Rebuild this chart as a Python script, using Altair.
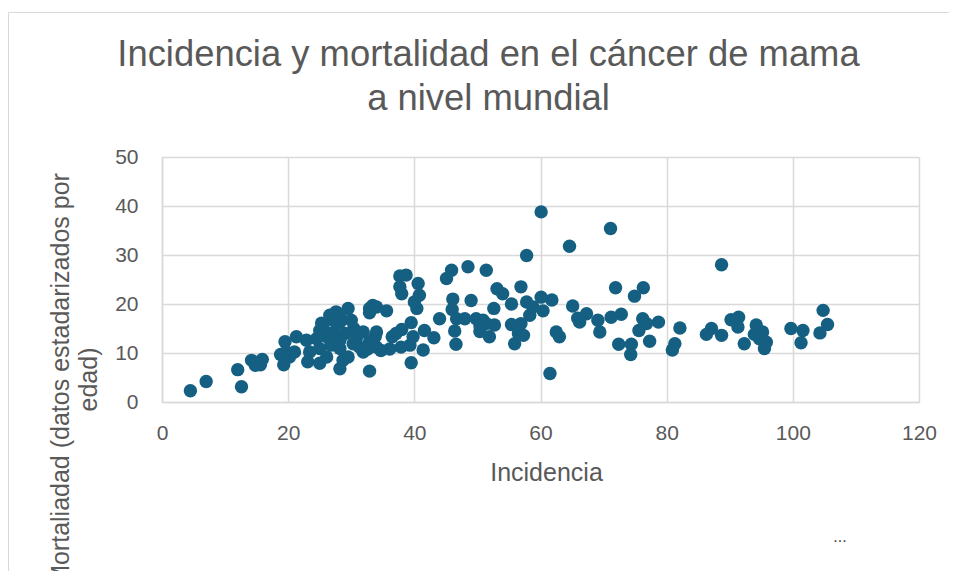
import altair as alt
import pandas as pd

incidencia = [
    4.5, 7.0, 12.0, 12.6, 14.2, 14.8, 15.9, 15.6, 18.8, 19.5, 19.3, 19.7,
    20.2, 21.0, 21.3, 22.9, 23.1, 23.4, 24.5, 25.3, 25.0, 25.5, 25.0, 25.0,
    26.1, 26.6, 26.6, 26.1, 26.8, 27.1, 27.4, 27.6, 28.2, 28.2, 28.2, 28.2,
    28.7, 28.2, 29.0, 29.5, 29.5, 30.0, 30.4, 30.3, 30.8,
    31.3, 31.9, 31.9, 32.6, 32.9, 32.9, 32.9, 32.9, 33.4, 33.8, 34.0, 34.0,
    34.0, 34.7, 35.6, 36.1, 36.5, 37.1, 37.7, 38.7, 37.7, 38.0, 38.0, 37.9,
    39.3, 39.5, 39.5, 39.8, 40.0, 40.6, 40.8, 40.4,
    41.4, 41.6, 43.1, 44.0, 45.1, 45.9, 46.1, 46.0, 46.7, 46.4, 46.6, 48.0,
    48.5, 49.0, 49.8,
    50.4, 50.4, 50.9, 51.4, 51.4, 51.9, 52.6, 52.7, 53.1, 54.0, 55.4, 55.4,
    55.9, 56.5, 56.9, 56.9, 57.3, 57.8, 57.8, 58.3, 58.8,
    60.1, 60.1, 60.4, 61.8, 61.5, 62.5, 63.0, 64.6, 65.1, 65.9, 66.2, 67.3,
    69.1, 69.4, 71.1, 71.2, 71.9, 72.8, 72.4, 74.3, 74.4, 74.9, 75.6, 76.2,
    76.3, 76.8, 77.3, 78.7,
    80.9, 81.3, 82.1, 86.3, 87.1, 88.7, 88.7, 90.2, 91.4, 91.3, 92.3, 94.2,
    93.9, 94.7, 95.2, 95.8, 95.5, 99.7, 101.6, 101.3, 104.3, 104.8, 105.5,
]
mortalidad = [
    2.3, 4.2, 6.6, 3.1, 8.5, 7.5, 8.7, 7.6, 9.7, 12.3, 7.6, 10.2,
    9.2, 10.2, 13.3, 12.6, 8.2, 10.2, 12.9, 16.1, 7.9, 15.3, 14.6, 10.9,
    13.3, 14.0, 17.7, 9.2, 11.6, 16.7, 14.3, 18.4, 17.7, 16.3, 12.6, 10.9,
    8.5, 6.8, 14.0, 19.1, 9.2, 16.7, 15.0, 11.9, 12.9,
    11.2, 14.3, 10.2, 10.8, 19.1, 18.2, 12.2, 6.3, 19.7, 13.3, 14.3, 19.4,
    11.2, 10.5, 18.6, 10.8, 13.3, 14.0, 25.7, 25.9, 23.5, 22.1, 14.8, 11.2,
    11.6, 16.2, 8.0, 13.3, 20.4, 24.2, 21.8, 19.1,
    10.6, 14.6, 13.1, 17.0, 25.2, 26.9, 21.0, 18.9, 17.0, 14.5, 11.8, 17.0,
    27.6, 20.7, 17.0,
    14.4, 15.5, 16.7, 16.0, 26.9, 13.3, 19.1, 15.7, 23.1, 22.1, 20.0, 15.8,
    11.9, 14.0, 23.5, 16.0, 13.6, 20.4, 29.9, 17.7, 19.4,
    38.8, 21.4, 18.6, 20.8, 5.8, 14.3, 13.3, 31.8, 19.6, 17.1, 16.3, 18.0,
    16.7, 14.3, 35.4, 17.3, 23.3, 17.9, 11.8, 9.7, 11.8, 21.6, 14.6, 17.0,
    23.3, 16.0, 12.4, 16.3,
    10.6, 11.9, 15.1, 13.8, 15.0, 28.0, 13.6, 16.8, 17.3, 15.3, 11.9, 15.7,
    13.8, 12.9, 14.3, 12.2, 10.9, 15.0, 14.6, 12.1, 14.1, 18.7, 15.8,
]
x_ticks = [0, 20, 40, 60, 80, 100, 120]
y_ticks = [0, 10, 20, 30, 40, 50]
title_lines = ["Incidencia y mortalidad en el cáncer de mama", "a nivel mundial"]
x_title = "Incidencia"
y_title = ["Mortaliadad (datos estadarizados por", "edad)"]

df = pd.DataFrame({"inc": incidencia, "mort": mortalidad})

FONT = "Liberation Sans"
GRAY = "#595959"
GRID = "#d9d9d9"

x_axis = alt.Axis(
    values=x_ticks, grid=True, gridColor=GRID, gridWidth=1.5,
    domainColor=GRID, domainWidth=1.5, ticks=False,
    labelFont=FONT, labelFontSize=21, labelColor=GRAY, labelPadding=20,
    labelFlush=False, labelOverlap=False,
    title=x_title, titleFont=FONT, titleFontSize=25, titleColor=GRAY,
    titleFontWeight="normal", titleX=384, titleY=78,
    titleBaseline="alphabetic", titleAlign="center",
)
y_axis = alt.Axis(
    values=y_ticks, grid=True, gridColor=GRID, gridWidth=1.5,
    domainColor=GRID, domainWidth=1.5, ticks=False,
    labelFont=FONT, labelFontSize=21, labelColor=GRAY, labelPadding=24,
    labelFlush=False, labelOverlap=False,
    title=y_title, titleFont=FONT, titleFontSize=25, titleColor=GRAY,
    titleFontWeight="normal", titleX=-94, titleY=222, titleAngle=270,
    titleBaseline="alphabetic", titleAlign="center", titleLineHeight=28,
)

points = alt.Chart(df).mark_circle(size=180, color="#156082", opacity=1).encode(
    x=alt.X("inc:Q", scale=alt.Scale(domain=[0, 120], nice=False), axis=x_axis),
    y=alt.Y("mort:Q", scale=alt.Scale(domain=[0, 50], nice=False), axis=y_axis),
)

one = pd.DataFrame({"k": [0]})
frame = alt.Chart(one).mark_rect(
    fillOpacity=0, stroke=GRID, strokeWidth=1
).encode(
    x=alt.value(-153.5), x2=alt.value(900), y=alt.value(-144.5), y2=alt.value(600)
)
dots = alt.Chart(one).mark_text(
    text="...", fontSize=16, color="#404040", font=FONT
).encode(x=alt.value(678), y=alt.value(380))

chart = alt.layer(frame, points, dots).properties(
    width=757,
    height=245,
    autosize=alt.AutoSizeParams(type="none"),
    padding={"left": 154, "top": 149, "right": 30, "bottom": 169},
    title=alt.TitleParams(
        text=title_lines, font=FONT, fontSize=36.4, color=GRAY,
        fontWeight="normal", anchor="middle", frame="group", dx=-52,
        offset=-142, lineHeight=44, baseline="bottom",
    ),
).configure_view(stroke="transparent")

chart.save("out.html", embed_options={"renderer": "svg", "actions": False})
